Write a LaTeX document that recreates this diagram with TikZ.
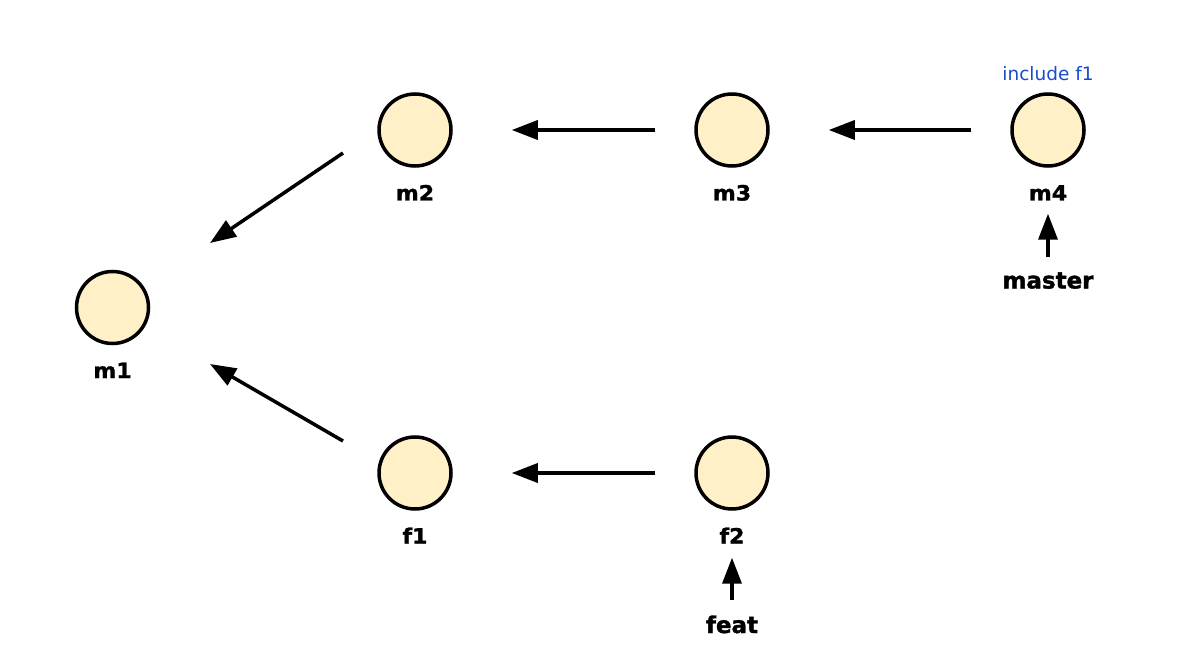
\documentclass[tikz,border=0pt]{standalone}
\usepackage{fontspec}
\setmainfont{DejaVu Sans}
\newfontfamily\lblfont[FakeStretch=1.05,FakeBold=1.5]{DejaVu Sans Bold}
\newfontfamily\brfont[FakeBold=1.5]{DejaVu Sans Bold}
\usepackage{tikz}
\usetikzlibrary{arrows.meta,positioning}
\definecolor{commitfill}{RGB}{255,240,200}
\definecolor{noteblue}{RGB}{25,75,205}
\tikzset{
  commit/.style={circle, draw=black, line width=3.5pt, fill=commitfill, minimum size=72pt, inner sep=0pt},
  lbl/.style={inner sep=0pt, anchor=base, font=\lblfont\fontsize{21}{25}\selectfont},
  branch/.style={inner sep=0pt, anchor=base, font=\brfont\fontsize{23}{27}\selectfont},
  note/.style={inner sep=0pt, anchor=base, text=noteblue, font=\fontsize{18.5}{22}\selectfont},
  arr/.style={line width=3.5pt, -{Triangle[length=26pt,width=19pt]}}
}
\begin{document}
\begin{tikzpicture}[x=1pt,y=-1pt]
\useasboundingbox (0,0) rectangle (1192,671);
\node[commit] (m1) at (112.5,307.5) {};
\node[commit] (m2) at (415,130) {};
\node[commit] (m3) at (732,130) {};
\node[commit] (m4) at (1048,130) {};
\node[commit] (f1) at (415,473) {};
\node[commit] (f2) at (732,473) {};
% commit names
\node[lbl] (m1l) at ([yshift=-70.5pt]m1.center) {m1};
\node[lbl] (m2l) at ([yshift=-70.5pt]m2.center) {m2};
\node[lbl] (m3l) at ([yshift=-70.5pt]m3.center) {m3};
\node[lbl] (m4l) at ([yshift=-70.5pt]m4.center) {m4};
\node[lbl] (f1l) at ([yshift=-70.5pt]f1.center) {f1};
\node[lbl] (f2l) at ([yshift=-70.5pt]f2.center) {f2};
\node[note] (inc) at ([yshift=49.5pt]m4.center) {include f1};
% branches
\node[branch] (master) at ([yshift=-158.5pt]m4.center) {master};
\node[branch] (feat) at ([yshift=-160pt]f2.center) {feat};
\draw[arr, shorten <=39pt, shorten >=59pt] (m3) -- (m2);
\draw[arr, shorten <=39pt, shorten >=59pt] (m4) -- (m3);
\draw[arr, shorten <=39pt, shorten >=59pt] (f2) -- (f1);
\draw[arr] ([shift={(-72,23)}]m2.center) -- ([shift={(97.5,-64.5)}]m1.center);
\draw[arr] ([shift={(-72,-32)}]f1.center) -- ([shift={(97.5,56.5)}]m1.center);
\draw[arr, shorten <=15pt, shorten >=13pt] (master) -- (m4l);
\draw[arr, shorten <=15pt, shorten >=14pt] (feat) -- (f2l);
\end{tikzpicture}
\end{document}
